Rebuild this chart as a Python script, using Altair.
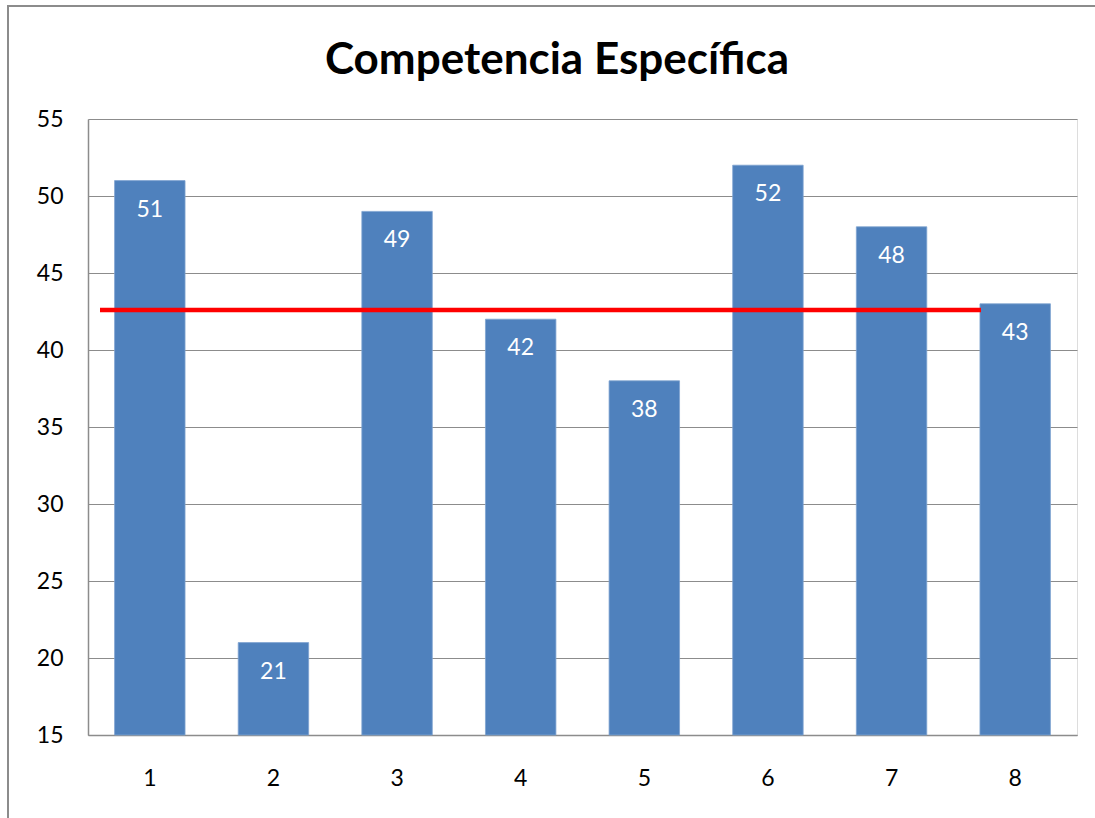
import altair as alt
import pandas as pd

categories = ["1", "2", "3", "4", "5", "6", "7", "8"]
values = [51, 21, 49, 42, 38, 52, 48, 43]
reference_level = [42.6]
y_ticks = [15, 20, 25, 30, 35, 40, 45, 50, 55]
title_text = ["Competencia Específica"]

df = pd.DataFrame({"cat": categories, "val": values})
ref = pd.DataFrame({"level": reference_level})
tdf = pd.DataFrame({"t": title_text})

FONT = "Lato"

x_enc = alt.X("cat:N", sort=categories, title=None,
              scale=alt.Scale(paddingInner=0.43, paddingOuter=0.215),
              axis=alt.Axis(labelAngle=0, labelFontSize=23, labelFont=FONT, labelColor="#000000",
                            labelPadding=32, ticks=False, domainColor="#8c8c8c", domainWidth=1.5,
                            grid=False))
y_scale = alt.Scale(domain=[15, 55], nice=False, zero=False)

bars = alt.Chart(df).mark_bar(color="#4F81BD", stroke="#7fa3d1", strokeWidth=0.8).encode(
    x=x_enc,
    y=alt.Y("val:Q", scale=y_scale, title=None,
            axis=alt.Axis(values=y_ticks, labelFontSize=23, labelFont=FONT, labelColor="#000000",
                          labelPadding=25, ticks=False, domainColor="#8c8c8c", domainWidth=1.5,
                          gridColor="#8c8c8c", gridWidth=1.2)),
    y2=alt.datum(15),
)

labels = alt.Chart(df).mark_text(color="white", fontSize=23, font=FONT, baseline="middle", dy=29).encode(
    x=alt.X("cat:N", sort=categories),
    y=alt.Y("val:Q", scale=y_scale),
    text="val:Q",
)

line = alt.Chart(ref).mark_rule(color="#ff0000", strokeWidth=4.5).encode(
    y=alt.Y("level:Q", scale=y_scale),
    x=alt.value(12),
    x2=alt.value(893),
)

frame = alt.Chart(ref).mark_rect(fill=None, stroke="#8c8c8c", strokeWidth=2, clip=False).encode(
    x=alt.value(-80), x2=alt.value(1100), y=alt.value(-113), y2=alt.value(900),
)

title = alt.Chart(tdf).mark_text(fontSize=44, font=FONT, fontWeight="bold", color="#000000",
                                 align="center", baseline="alphabetic").encode(
    text="t:N", x=alt.value(469), y=alt.value(-45),
)

chart = alt.layer(frame, bars, line, labels, title).properties(
    width=989, height=616,
    padding={"left": 88, "top": 119, "right": 18, "bottom": 83},
    autosize=alt.AutoSizeParams(type="none"),
).configure_view(stroke=None).configure(background="white")

chart.save("out.html", embed_options={"renderer": "svg", "actions": False})
